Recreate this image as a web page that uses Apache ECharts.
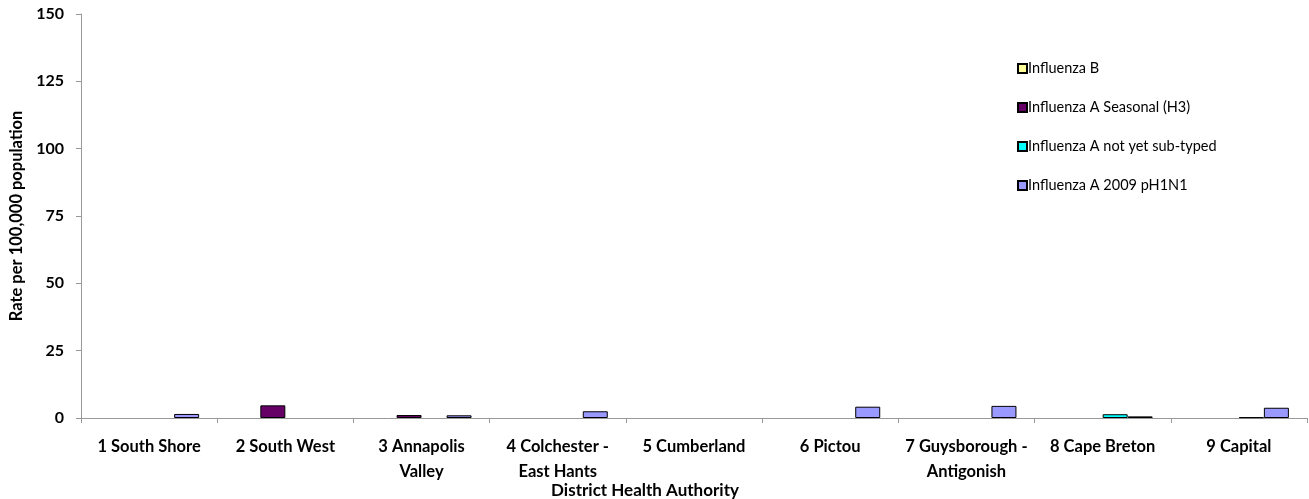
<!DOCTYPE html>
<html>
<head>
<meta charset="utf-8">
<script src="https://cdn.jsdelivr.net/npm/echarts@6/dist/echarts.min.js"></script>
<style>
    html, body { margin: 0; padding: 0; background: #fff; }
    #chart { width: 1309px; height: 499px; }
</style>
</head>
<body>
<div id="chart"></div>
<script>
// district health authorities
var districts = [
    '1 South Shore',
    '2 South West',
    '3 Annapolis\nValley',
    '4 Colchester -\nEast Hants',
    '5 Cumberland',
    '6 Pictou',
    '7 Guysborough -\nAntigonish',
    '8 Cape Breton',
    '9 Capital'
]
// rate per 100,000 population (null = no cases, nothing drawn)
var fluB = [null, null, null, null, null, null, null, null, null]
var fluH3 = [null, 4.7, 1.1, null, null, null, null, null, null]
var fluNotTyped = [null, null, null, null, null, null, null, 1.4, 0.3]
var fluPH1N1 = [1.5, null, 1.0, 2.5, null, 4.2, 4.5, 0.6, 3.8]

var font = 'Lato, "Open Sans", sans-serif'
var chart = echarts.init(document.getElementById('chart'))

function bar(name, color, data) {
    return {
        name: name,
        type: 'bar',
        barWidth: 25,
        barGap: '0%',
        itemStyle: {
            color: color,
            borderColor: '#000',
            borderWidth: 1
        },
        data: data
    }
}

chart.setOption({
    backgroundColor: '#fff',
    animation: false,
    textStyle: { fontFamily: font },
    title: {
        text: 'District Health Authority',
        left: 640,
        top: 477,
        textAlign: 'center',
        textStyle: { fontSize: 17, fontWeight: 'bold', color: '#000', fontFamily: font }
    },
    legend: {
        orient: 'vertical',
        left: 1012,
        top: 56,
        itemGap: 24,
        itemWidth: 9,
        itemHeight: 9,
        icon: 'rect',
        textStyle: { fontSize: 14.5, color: '#000', padding: [0, 0, 0, -4] },
        data: ['Influenza B', 'Influenza A Seasonal (H3)', 'Influenza A not yet sub-typed', 'Influenza A 2009 pH1N1']
    },
    grid: {
        left: 81,
        right: 2,
        top: 14,
        bottom: 81
    },
    xAxis: {
        type: 'category',
        data: districts,
        axisLine: { lineStyle: { color: '#999' } },
        axisTick: { show: true, length: 5, lineStyle: { color: '#999' } },
        axisLabel: {
            color: '#000',
            fontWeight: 'bold',
            fontSize: 16.5,
            margin: 16,
            lineHeight: 25,
            interval: 0
        }
    },
    yAxis: {
        type: 'value',
        min: 0,
        max: 150,
        interval: 25,
        name: 'Rate per 100,000 population',
        nameLocation: 'middle',
        nameGap: 56,
        nameTextStyle: { color: '#000', fontWeight: 'bold', fontSize: 16.5 },
        axisLine: { show: true, lineStyle: { color: '#999' } },
        axisTick: { show: true, length: 5, lineStyle: { color: '#999' } },
        splitLine: { show: false },
        axisLabel: { color: '#000', fontWeight: 'bold', fontSize: 16, margin: 17 }
    },
    series: [
        bar('Influenza B', '#FFFF99', fluB),
        bar('Influenza A Seasonal (H3)', '#660066', fluH3),
        bar('Influenza A not yet sub-typed', '#00FFFF', fluNotTyped),
        bar('Influenza A 2009 pH1N1', '#9999FF', fluPH1N1)
    ]
})
</script>
</body>
</html>
